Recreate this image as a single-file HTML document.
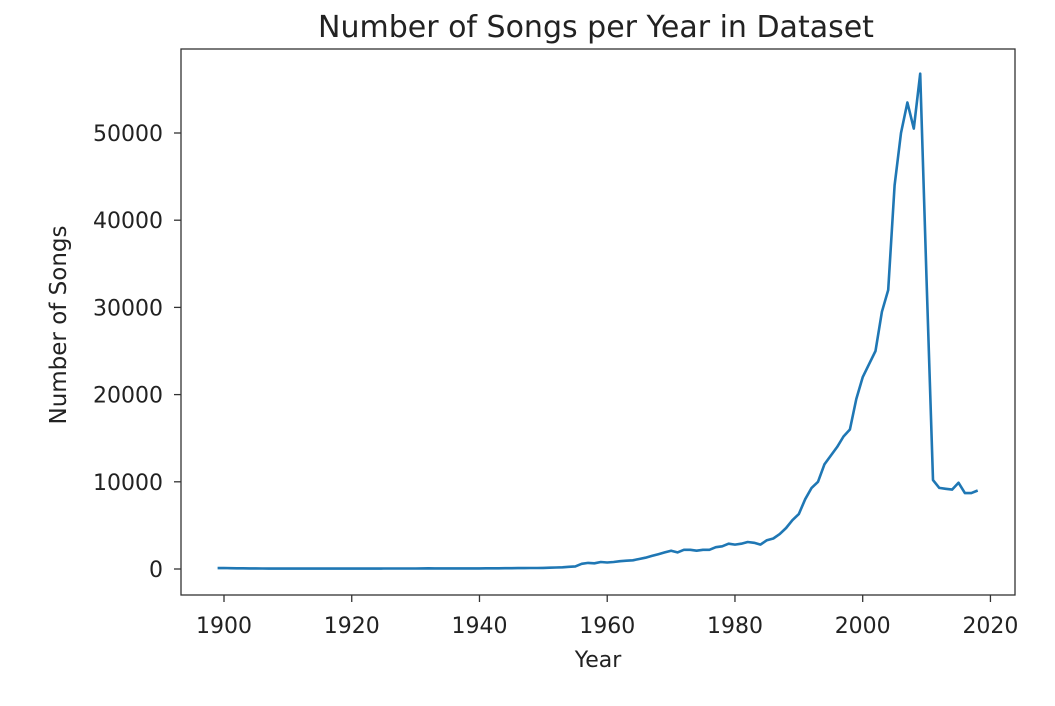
<!DOCTYPE html>
<html><head><meta charset="utf-8"><style>
body{margin:0;background:#fff;}
svg{display:block;font-family:"DejaVu Sans","Liberation Sans",sans-serif;}
</style></head><body>
<svg id="chart" width="1055" height="706">
<text x="596" y="37" font-size="30" text-anchor="middle" fill="#222">Number of Songs per Year in Dataset</text>
<g id="axes"></g>
<text x="598" y="667" font-size="22" text-anchor="middle" fill="#222">Year</text>
<text transform="translate(66,325) rotate(-90)" font-size="23" text-anchor="middle" fill="#222">Number of Songs</text>
</svg>
<script>
const years = [];
for (let y = 1899; y <= 2018; y++) years.push(y);
const early = [100,120,90,80,80,70,70,60,50,50,50,50,50,50,50,50,50,50,50,50,50,50,50,50,50,50,60,60,60,60,60,60,70,80,70,70,70,70,70,70,70,70,80,80,80,90,90,100,100,110,120,130,150,170,200,250];
const later = [300,600,700,650,800,750,800,900,950,1000,1150,1300,1500,1700,1900,2100,1900,2200,2200,2100,2200,2200,2500,2600,2900,2800,2900,3100,3000,2800,3300,3500,4000,4700,5600,6300,8000,9300,10000,12000,13000,14000,15200,16000,19500,22000,23500,25000,29500,32000,44000,50000,53500,50500,56800,33000,10200,9300,9200,9100,9900,8700,8700,9000];
const counts = early.concat(later);
const xTicks = [1900,1920,1940,1960,1980,2000,2020];
const yTicks = [0,10000,20000,30000,40000,50000];

const L=181,R=1015,T=49,B=595;
const xs = y => 224 + (y-1900)*6.387;
const ys = v => 569 - v*0.00872;
const ns="http://www.w3.org/2000/svg";
const g=document.getElementById('axes');
function mk(t,a){const e=document.createElementNS(ns,t);for(const k in a)e.setAttribute(k,a[k]);g.appendChild(e);return e;}
const n=Math.min(years.length,counts.length);
let d='';
for(let i=0;i<n;i++) d+=(i?'L':'M')+xs(years[i]).toFixed(1)+','+ys(counts[i]).toFixed(1);
const line=mk('path',{d:d,fill:'none',stroke:'#1f77b4','stroke-width':2.6,'stroke-linejoin':'round'});


const frame=mk('rect',{x:L,y:T,width:R-L,height:B-T,fill:'none',stroke:'#333','stroke-width':1.3});


xTicks.forEach(t=>{
  const x=xs(t);
  const tk=mk('line',{x1:x,x2:x,y1:B,y2:B+7,stroke:'#333','stroke-width':1.3});
  
  
  const lb=mk('text',{x:x,y:633,'font-size':22,'text-anchor':'middle',fill:'#222'});
  lb.textContent=t;
  
  
});
yTicks.forEach(t=>{
  const y=ys(t);
  const tk=mk('line',{x1:L-7,x2:L,y1:y,y2:y,stroke:'#333','stroke-width':1.3});
  
  
  const lb=mk('text',{x:L-18,y:y+8,'font-size':22,'text-anchor':'end',fill:'#222'});
  lb.textContent=t;
  
  
});
</script>
</body></html>
